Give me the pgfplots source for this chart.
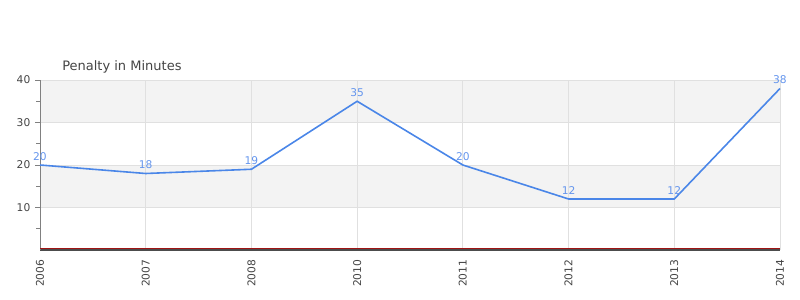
\documentclass[border=0pt]{standalone}
\usepackage{fontspec}
\setmainfont{DejaVu Sans}
\usepackage{pgfplots}
\pgfplotsset{compat=1.18}
\definecolor{linec}{RGB}{74,134,232}
\definecolor{labc}{RGB}{100,149,237}
\definecolor{band}{RGB}{243,243,243}
\definecolor{gridc}{RGB}{224,224,224}
\definecolor{txt}{RGB}{68,68,68}
\definecolor{axc}{RGB}{128,128,128}
\definecolor{basec}{RGB}{160,20,20}
\begin{document}
\begin{tikzpicture}
\begin{axis}[
  set layers,
  at={(30pt,37.5pt)}, anchor=south west,
  scale only axis, width=555pt, height=127.5pt,
  xmin=0, xmax=7, ymin=0, ymax=40,
  clip=false,
  axis lines*=left,
  axis line style={draw=axc, line width=0.75pt},
  x axis line style={draw=black!70, line width=0.9pt},
  xtick={0,1,2,3,4,5,6,7},
  xticklabels={2006,2007,2008,2010,2011,2012,2013,2014},
  xticklabel style={rotate=90, anchor=east, text=txt, font=\fontsize{8}{9}\selectfont},
  xtick style={draw=none},
  xmajorgrids, ymajorgrids,
  grid style={draw=gridc, line width=0.6pt},
  ytick={10,20,30,40},
  minor ytick={5,15,25,35},
  ytick pos=left,
  tick align=outside,
  major tick length=3.75pt,
  minor tick length=3pt,
  ytick style={draw=axc, line width=0.6pt},
  yticklabel style={text=txt, font=\fontsize{8}{9}\selectfont},
  /pgf/number format/assume math mode=true,
]
\addplot[fill=band, draw=none, on layer=axis background, forget plot] coordinates {(0,10) (7,10) (7,20) (0,20)} -- cycle;
\addplot[fill=band, draw=none, on layer=axis background, forget plot] coordinates {(0,30) (7,30) (7,40) (0,40)} -- cycle;
\addplot[basec, line width=0.5pt, forget plot] coordinates {(0,0.3) (7,0.3)};
\addplot[linec, line width=1.2pt, mark=none, nodes near coords,
  every node near coord/.append style={text=labc, font=\fontsize{8}{9}\selectfont, yshift=-0.5pt}] coordinates {
(0,20) (1,18) (2,19) (3,35) (4,20) (5,12) (6,12) (7,38)};
\end{axis}
\node[anchor=west,text=txt,font=\fontsize{9.75}{11}\selectfont,inner sep=0pt] at (46.5pt,174.75pt) {Penalty in Minutes};
\pgfresetboundingbox
\path[use as bounding box] (0pt,0pt) rectangle (600pt,225pt);
\end{tikzpicture}
\end{document}
